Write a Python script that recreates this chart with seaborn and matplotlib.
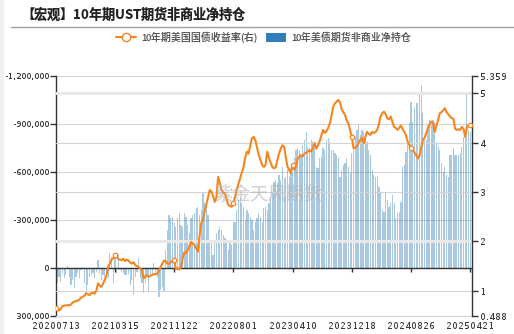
import numpy as np
import pandas as pd
import matplotlib
matplotlib.use("Agg")
import matplotlib.pyplot as plt
from matplotlib.lines import Line2D
from matplotlib.patches import Patch, Rectangle
import seaborn as sns

# ---------------- data ----------------
tick_labels = ["20200713", "20210315", "20211122", "20220801",
               "20230410", "20231218", "20240826", "20250421"]

# 10Y UST futures non-commercial net position (thousand contracts), weekly
net_position_k = [
    75, 96, 54, 85, 33, 64, 44, -12, 54, 106,
    75, 127, 54, 33, 64, 12, -8, 96, 148, 106,
    54, 44, 33, 64, 23, -50, 33, 75, 44, 54,
    23, 64, -96, -71, 96, -81, 33, -85, 12, 23,
    33, 44, 44, 37, 106, 75, 168, 54, 23, -60,
    64, 96, 158, 96, 54, 148, 44, 33, -29, 44,
    54, 179, 137, 116, 148, -112, -237, -331, -310, -320,
    -279, -258, -310, -341, -268, -258, -341, -320, -268, -216,
    -310, -331, -341, -372, -383, -331, -362, -476, -404, -393,
    -331, -164, -154, -81, -154, -216, -237, -258, -237, -206,
    -185, -175, -112, -154, -144, -289, -289, -362, -424, -435,
    -404, -383, -300, -362, -341, -320, -300, -237, -289, -310,
    -341, -320, -289, -372, -383, -362, -404, -435, -466, -539,
    -549, -528, -580, -549, -632, -560, -570, -612, -570, -622,
    -591, -684, -736, -747, -736, -705, -768, -799, -851, -757,
    -747, -799, -788, -757, -632, -622, -684, -695, -747, -736,
    -799, -809, -788, -736, -736, -716, -705, -684, -570, -612,
    -643, -653, -684, -632, -591, -716, -788, -820, -861, -892,
    -830, -861, -851, -820, -788, -736, -705, -612, -580, -570,
    -570, -508, -476, -362, -352, -476, -424, -383, -404, -456,
    -404, -310, -341, -352, -414, -632, -643, -726, -799, -903,
    -1038, -913, -1007, -1028, -1028, -1090, -1142, -965, -820, -799,
    -892, -924, -892, -924, -913, -788, -757, -736, -653, -601,
    -632, -580, -570, -705, -705, -747, -705, -705, -705, -716,
    -757, -820, -820, -1080, -861, -851,
]

# 10Y US Treasury yield (%), weekly (right axis)
yield_10y = [
    0.65, 0.61, 0.60, 0.63, 0.69, 0.70, 0.70, 0.71, 0.70, 0.72,
    0.76, 0.78, 0.79, 0.80, 0.82, 0.86, 0.88, 0.90, 0.95, 0.93,
    0.91, 0.95, 0.96, 0.94, 1.00, 1.15, 1.10, 1.08, 1.14, 1.22,
    1.30, 1.49, 1.55, 1.63, 1.66, 1.72, 1.70, 1.64, 1.63, 1.62,
    1.65, 1.60, 1.63, 1.61, 1.57, 1.55, 1.58, 1.52, 1.50, 1.48,
    1.45, 1.40, 1.25, 1.30, 1.31, 1.28, 1.30, 1.32, 1.34, 1.33,
    1.35, 1.40, 1.48, 1.55, 1.61, 1.60, 1.55, 1.54, 1.58, 1.60,
    1.62, 1.44, 1.45, 1.43, 1.48, 1.65, 1.78, 1.76, 1.82, 1.90,
    1.99, 1.95, 1.93, 1.86, 1.79, 2.10, 2.37, 2.43, 2.60, 2.75,
    2.91, 3.04, 3.01, 2.92, 2.80, 2.90, 3.31, 3.18, 3.04, 2.98,
    2.98, 2.85, 2.74, 2.72, 2.70, 2.78, 2.91, 3.05, 3.17, 3.28,
    3.40, 3.51, 3.70, 3.82, 3.78, 3.95, 4.09, 4.12, 4.05, 3.90,
    3.75, 3.65, 3.55, 3.51, 3.55, 3.82, 3.70, 3.60, 3.51, 3.48,
    3.50, 3.65, 3.78, 3.88, 3.95, 3.92, 3.70, 3.51, 3.45, 3.38,
    3.55, 3.45, 3.52, 3.68, 3.72, 3.75, 3.72, 3.78, 3.80, 3.82,
    3.85, 3.82, 3.90, 3.99, 3.88, 3.95, 4.03, 4.15, 4.26, 4.20,
    4.23, 4.30, 4.39, 4.55, 4.73, 4.80, 4.83, 4.87, 4.82, 4.68,
    4.62, 4.56, 4.45, 4.39, 4.25, 4.12, 3.89, 3.90, 3.92, 4.00,
    4.06, 4.10, 3.99, 4.12, 4.22, 4.18, 4.16, 4.22, 4.20, 4.22,
    4.26, 4.38, 4.53, 4.60, 4.63, 4.58, 4.49, 4.48, 4.53, 4.42,
    4.32, 4.30, 4.26, 4.30, 4.35, 4.28, 4.22, 4.15, 4.02, 3.95,
    3.89, 3.85, 3.80, 3.75, 3.68, 3.74, 3.90, 4.06, 4.10, 4.20,
    4.29, 4.38, 4.43, 4.40, 4.22, 4.35, 4.46, 4.60, 4.62, 4.66,
    4.70, 4.62, 4.58, 4.53, 4.50, 4.49, 4.29, 4.26, 4.27, 4.26,
    4.32, 4.28, 4.12, 4.32, 4.35, 4.35,
]

left_ticks = [-1200000, -900000, -600000, -300000, 0, 300000]
left_tick_labels = ["-1,200,000", "-900,000", "-600,000", "-300,000", "0", "300,000"]
right_ticks = [0.488, 1, 2, 3, 4, 5, 5.359]
right_tick_labels = ["0.488", "1", "2", "3", "4", "5", "5.359"]

title_text = "【宏观】10年期UST期货非商业净持仓"
legend_line = "10年期美国国债收益率(右)"
legend_bar = "10年美债期货非商业净持仓"
watermark = "紫金天风期货"

# ---------------- style ----------------
sns.set_style("white")
plt.rcParams["font.family"] = ["Noto Sans CJK SC", "DejaVu Sans"]
plt.rcParams["axes.unicode_minus"] = False
plt.rcParams["text.hinting_factor"] = 1
plt.rcParams["text.hinting"] = "native"
TICKFONT = ["DejaVu Sans"]
TICKSIZE = 6.0

ORANGE = "#f5861f"
BAR = "#2878b5"
AXIS = "#333333"
GRID = "#d4d4d4"
TXT = "#3a3a3a"

n = len(net_position_k)
df = pd.DataFrame({
    "week": np.arange(n),
    "net": np.array(net_position_k) * 1000,
    "yield": yield_10y,
})
tick_pos = np.arange(0, n, 35)

fig = plt.figure(figsize=(5.14, 3.34), dpi=100)
fig.patch.set_facecolor("white")
ax = fig.add_axes([55.7 / 514, (334 - 316) / 334, (472.3 - 55.7) / 514, (316 - 75.7) / 334])

# grid lines (left axis)
for v in left_ticks:
    ax.axhline(v, color=GRID, lw=0.8, zorder=0)

sns.barplot(data=df, x="week", y="net", native_scale=True, color=BAR,
            saturation=1, alpha=0.4, width=0.72, linewidth=0,
            errorbar=None, ax=ax, zorder=1)

ax.axhline(0, color=AXIS, lw=1.0, zorder=3)
ax.plot(tick_pos, np.zeros(len(tick_pos)), ls="none", marker=3, ms=3,
        mew=1.0, color=AXIS, zorder=3)

ax.set_ylim(300000, -1200000)
ax.set_xlim(0, 246.2)
ax.set_yticks(left_ticks)
ax.set_yticklabels(left_tick_labels, family=TICKFONT)
ax.set_xticks(tick_pos)
ax.set_xticklabels(tick_labels, family=TICKFONT)
ax.set_xlabel("")
ax.set_ylabel("")
ax.tick_params(axis="y", length=4, width=1, color=AXIS, labelsize=TICKSIZE,
               labelcolor=TXT, pad=1.0)
ax.tick_params(axis="x", length=0, labelsize=6.4, labelcolor=TXT, pad=3.5)
for s in ["top", "right"]:
    ax.spines[s].set_visible(False)
ax.spines["left"].set_color(AXIS)
ax.spines["left"].set_linewidth(1)
ax.spines["bottom"].set_color(GRID)
ax.spines["bottom"].set_linewidth(0.8)

# right axis
ax2 = ax.twinx()
for v in right_ticks[1:-1]:
    if v in (2, 5):
        ax2.axhline(v, color="#e8e8e8", lw=2.2, zorder=0)
    else:
        ax2.axhline(v, color=GRID, lw=0.8, zorder=0)
sns.lineplot(data=df, x="week", y="yield", ax=ax2, color=ORANGE, lw=1.5,
             marker="o", markevery=35, ms=3.2, mfc="white", mec=ORANGE,
             mew=0.9, zorder=5)
ax2.set_ylim(0.488, 5.359)
ax2.set_yticks(right_ticks)
ax2.set_yticklabels(right_tick_labels, family=TICKFONT)
ax2.set_xlim(0, 246.2)
ax2.set_xlabel("")
ax2.set_ylabel("")
ax2.tick_params(axis="y", length=4, width=1, color=AXIS, labelsize=6.4,
                labelcolor=TXT, pad=1.5)
for s in ["top", "left", "bottom"]:
    ax2.spines[s].set_visible(False)
ax2.spines["right"].set_color(AXIS)
ax2.spines["right"].set_linewidth(1)

# title, rule, legend, watermark
fig.patches.append(Rectangle((0, 0), 3 / 514, 1, transform=fig.transFigure,
                             color="#f0f0f0", zorder=0))
fig.text(21 / 514, 1 - 15 / 334, title_text, fontsize=9.5, fontweight="bold",
         color="#222222", ha="left", va="center")
fig.add_artist(Line2D([11 / 514, 1], [1 - 26.7 / 334] * 2, color="#a0a0a0",
                      lw=1, transform=fig.transFigure))

handles = [
    Line2D([], [], color=ORANGE, lw=1.5, marker="o", ms=6, mfc="white",
           mec=ORANGE, mew=1.0),
    Patch(facecolor="#2e7dbd", edgecolor="none"),
]
fig.legend(handles, [legend_line, legend_bar], loc="center",
           bbox_to_anchor=(264 / 514, 1 - 37.3 / 334), ncol=2, frameon=False,
           fontsize=7, labelcolor="#555555", handlelength=2.0,
           handleheight=1.0, handletextpad=0.6, columnspacing=0.9,
           borderpad=0, borderaxespad=0)

fig.text(268 / 514, 1 - 195 / 334, watermark, fontsize=13, color="#b0b0b0",
         alpha=0.55, ha="center", va="center")

fig.savefig("out.png", dpi=100, facecolor="white")
